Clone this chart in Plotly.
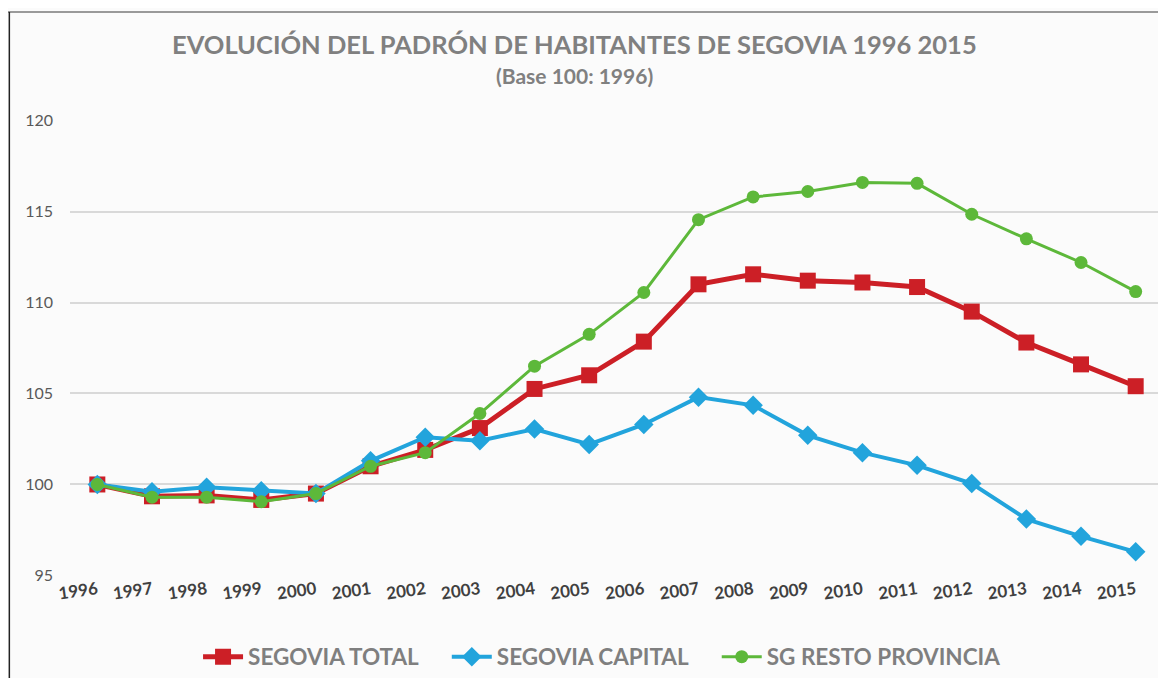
import plotly.graph_objects as go

years = [str(y) for y in range(1996, 2016)]
segovia_total = [100.0, 99.35, 99.4, 99.15, 99.5, 101.0, 101.9, 103.1, 105.25, 106.0,
                 107.85, 111.0, 111.55, 111.2, 111.1, 110.85, 109.5, 107.8, 106.6, 105.4]
segovia_capital = [100.0, 99.6, 99.85, 99.65, 99.5, 101.3, 102.6, 102.4, 103.05, 102.2,
                   103.3, 104.8, 104.35, 102.7, 101.75, 101.05, 100.05, 98.1, 97.15, 96.3]
sg_resto = [100.0, 99.3, 99.3, 99.05, 99.5, 101.0, 101.75, 103.9, 106.5, 108.25,
            110.55, 114.55, 115.8, 116.1, 116.6, 116.55, 114.85, 113.5, 112.2, 110.6]
y_ticks = [95, 100, 105, 110, 115, 120]
series_names = ["SEGOVIA TOTAL", "SEGOVIA CAPITAL", "SG RESTO PROVINCIA"]

title_text = "EVOLUCIÓN DEL PADRÓN DE HABITANTES DE SEGOVIA 1996 2015"
subtitle_text = "(Base 100: 1996)"

RED = "#cc1f26"
BLUE = "#22a4dc"
GREEN = "#5db83a"
FONT = "Lato, Open Sans, sans-serif"
PAD = "\u00a0" * 4


def legend_name(name, pad=""):
    return "<b>" + name + "</b>" + pad


fig = go.Figure()
fig.add_trace(go.Scatter(x=years, y=segovia_total, name=legend_name(series_names[0], PAD),
                         mode="lines+markers", line=dict(color=RED, width=5),
                         marker=dict(symbol="square", size=16, color=RED)))
fig.add_trace(go.Scatter(x=years, y=segovia_capital, name=legend_name(series_names[1], PAD),
                         mode="lines+markers", line=dict(color=BLUE, width=4),
                         marker=dict(symbol="diamond", size=15, color=BLUE)))
fig.add_trace(go.Scatter(x=years, y=sg_resto, name=legend_name(series_names[2]),
                         mode="lines+markers", line=dict(color=GREEN, width=3),
                         marker=dict(symbol="circle", size=13, color=GREEN)))

fig.update_layout(
    width=1158, height=670,
    margin=dict(l=62, r=3, t=112, b=102),
    paper_bgcolor="#fbfbfb", plot_bgcolor="#fbfbfb",
    showlegend=True,
    legend=dict(orientation="h", xref="container", yref="container",
                x=0.513, xanchor="center", y=1 - 649 / 670, yanchor="middle",
                font=dict(family=FONT, size=22.5, color="#7f7f7f"),
                bgcolor="rgba(0,0,0,0)", itemwidth=40),
    annotations=[
        dict(text="<b>" + title_text + "</b>", xref="paper", yref="paper",
             x=0.462, y=(568 - 36) / 456, xanchor="center", yanchor="middle", showarrow=False,
             font=dict(family=FONT, size=25.5, color="#808080")),
        dict(text="<b>" + subtitle_text + "</b>", xref="paper", yref="paper",
             x=0.462, y=(568 - 67) / 456, xanchor="center", yanchor="middle", showarrow=False,
             font=dict(family=FONT, size=21, color="#808080")),
    ],
    shapes=[
        dict(type="line", xref="paper", yref="paper", x0=-0.0567, x1=1.01, y0=(568 - 4) / 456,
             y1=(568 - 4) / 456, line=dict(color="#7a7a7a", width=1.5)),
        dict(type="line", xref="paper", yref="paper", x0=-0.0555, x1=-0.0555, y0=(568 - 4) / 456,
             y1=-0.3, line=dict(color="#222222", width=1.5)),
    ],
)
fig.update_xaxes(type="category", range=[-0.5, 19.5], showgrid=False, showline=False,
                 tickangle=-8, ticks="", ticklen=0, automargin=False,
                 tickfont=dict(family=FONT, size=17, color="#404040"),
                 tickprefix="<b>", ticksuffix="</b>")
fig.update_yaxes(range=[94.97, 120.03], tickvals=y_ticks, showgrid=True, gridcolor="#d9d9d9",
                 gridwidth=2, zeroline=False, showline=False, ticks="", ticklabelstandoff=16,
                 automargin=False,
                 tickfont=dict(family=FONT, size=16, color="#595959"),
                 tickprefix="<b>", ticksuffix="</b>")

fig.write_html("out.html")
